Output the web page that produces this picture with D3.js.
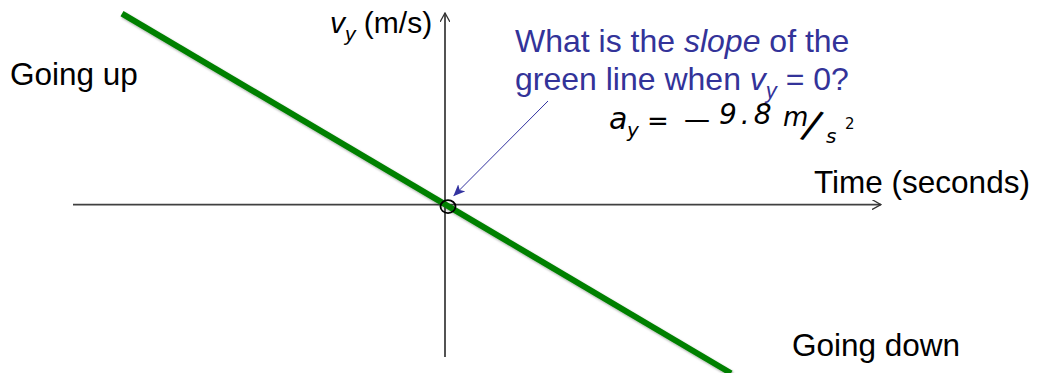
<!DOCTYPE html>
<html>
<head>
<meta charset="utf-8">
<script src="https://cdn.jsdelivr.net/npm/d3@7"></script>
<style>
  html, body { margin: 0; padding: 0; background: #fff; }
  svg { display: block; font-family: Arial, "Liberation Sans", sans-serif; }
</style>
</head>
<body>
<svg id="chart" width="1043" height="373"></svg>
<script>
// velocity vs time for a ball thrown up: vy = -9.8 t (t = 0 at the top)
const lineTime = [-3.23, 2.86];
const lineVy = [31.7, -28.0];
const xDomain = [-3.72, 4.36];
const yDomain = [-25.3, 31.8];
const zeroPoint = [0, 0];

const labels = {
  up: 'Going up',
  down: 'Going down',
  xTitle: 'Time (seconds)',
  question1: 'What is the ',
  question1b: 'slope',
  question1c: ' of the',
  question2: 'green line when ',
};

const svg = d3.select('#chart');

const x = d3.scaleLinear().domain(xDomain).range([73, 881]);
const y = d3.scaleLinear().domain(yDomain).range([357, 13]);

const defs = svg.append('defs');
defs.append('marker')
  .attr('id', 'axisHead')
  .attr('viewBox', '0 0 10 10')
  .attr('refX', 9).attr('refY', 5)
  .attr('markerWidth', 10).attr('markerHeight', 10)
  .attr('markerUnits', 'userSpaceOnUse')
  .attr('orient', 'auto')
  .append('path')
  .attr('d', 'M0,0 L9,5 L0,10')
  .attr('fill', 'none')
  .attr('stroke', '#333')
  .attr('stroke-width', 1.3);

defs.append('marker')
  .attr('id', 'blueHead')
  .attr('viewBox', '0 0 12 10')
  .attr('refX', 11).attr('refY', 5)
  .attr('markerWidth', 12).attr('markerHeight', 10)
  .attr('markerUnits', 'userSpaceOnUse')
  .attr('orient', 'auto')
  .append('path')
  .attr('d', 'M0,0 L12,5 L0,10 L3,5 Z')
  .attr('fill', '#3333a0');

const shadow = defs.append('filter').attr('id', 'shadow')
  .attr('x', '-10%').attr('y', '-10%').attr('width', '120%').attr('height', '120%');
shadow.append('feDropShadow')
  .attr('dx', 1).attr('dy', 1.5).attr('stdDeviation', 1)
  .attr('flood-color', '#000').attr('flood-opacity', 0.35);

// axes
svg.append('line')
  .attr('x1', x(xDomain[0])).attr('x2', x(xDomain[1]))
  .attr('y1', y(0)).attr('y2', y(0))
  .attr('stroke', '#404040').attr('stroke-width', 1.6)
  .attr('marker-end', 'url(#axisHead)');

svg.append('line')
  .attr('x1', x(0)).attr('x2', x(0))
  .attr('y1', y(yDomain[0])).attr('y2', y(yDomain[1]))
  .attr('stroke', '#404040').attr('stroke-width', 1.8)
  .attr('marker-end', 'url(#axisHead)');

// green line
const pts = lineTime.map((t, i) => [t, lineVy[i]]);
svg.append('path')
  .datum(pts)
  .attr('d', d3.line().x((d) => x(d[0])).y((d) => y(d[1])))
  .attr('fill', 'none')
  .attr('stroke', '#008000')
  .attr('stroke-width', 6)
  .attr('filter', 'url(#shadow)');

// circle at vy = 0
svg.append('ellipse')
  .attr('cx', x(zeroPoint[0]) + 3).attr('cy', y(zeroPoint[1]) + 2)
  .attr('rx', 7.5).attr('ry', 6.5)
  .attr('fill', 'none').attr('stroke', '#000').attr('stroke-width', 1.8);

// blue pointer
svg.append('line')
  .attr('x1', 548).attr('y1', 101)
  .attr('x2', x(0) + 9).attr('y2', y(0) - 9)
  .attr('stroke', '#3333a0').attr('stroke-width', 1)
  .attr('marker-end', 'url(#blueHead)');

// text labels
svg.append('text').attr('x', 10).attr('y', 85)
  .attr('font-size', 31.5).attr('fill', '#000').text(labels.up);
svg.append('text').attr('x', 792).attr('y', 356)
  .attr('font-size', 31.5).attr('fill', '#000').text(labels.down);
svg.append('text').attr('x', 814).attr('y', 193)
  .attr('font-size', 31.5).attr('fill', '#000').text(labels.xTitle);

const yt = svg.append('text').attr('x', 330).attr('y', 33)
  .attr('font-size', 30).attr('fill', '#000');
yt.append('tspan').attr('font-style', 'italic').text('v');
yt.append('tspan').attr('font-style', 'italic').attr('font-size', 21).attr('dy', 8).text('y');
yt.append('tspan').attr('dy', -8).text(' (m/s)');

const q1 = svg.append('text').attr('x', 515).attr('y', 52)
  .attr('font-size', 32).attr('fill', '#333399');
q1.append('tspan').text(labels.question1);
q1.append('tspan').attr('font-style', 'italic').text(labels.question1b);
q1.append('tspan').text(labels.question1c);

const q2 = svg.append('text').attr('x', 515).attr('y', 90)
  .attr('font-size', 32).attr('fill', '#333399');
q2.append('tspan').text(labels.question2);
q2.append('tspan').attr('font-style', 'italic').text('v');
q2.append('tspan').attr('font-style', 'italic').attr('font-size', 22).attr('dy', 8).text('y');
q2.append('tspan').attr('dy', -8).text(' = 0?');

// handwritten answer
const hw = svg.append('g')
  .attr('font-family', '"DejaVu Sans", sans-serif')
  .attr('fill', '#000');
hw.append('text').attr('x', 609).attr('y', 129).attr('font-size', 30).attr('font-style', 'italic').text('a');
hw.append('text').attr('x', 627).attr('y', 137).attr('font-size', 20).attr('font-style', 'italic').text('y');
hw.append('text').attr('x', 647).attr('y', 130).attr('font-size', 26).text('=');
hw.append('text').attr('x', 684).attr('y', 128).attr('font-size', 26).text('—');
hw.append('text').attr('x', 719).attr('y', 124).attr('font-size', 28)
  .attr('font-style', 'italic').attr('letter-spacing', 4).text('9.8');
hw.append('text').attr('x', 783).attr('y', 126).attr('font-size', 26).attr('font-style', 'italic').text('m');
hw.append('text').attr('x', 806).attr('y', 140).attr('font-size', 40)
  .attr('transform', 'rotate(20, 816, 124)').text('/');
hw.append('text').attr('x', 826).attr('y', 143).attr('font-size', 20).attr('font-style', 'italic').text('s');
hw.append('text').attr('x', 845).attr('y', 129).attr('font-size', 15).text('2');
</script>
</body>
</html>
